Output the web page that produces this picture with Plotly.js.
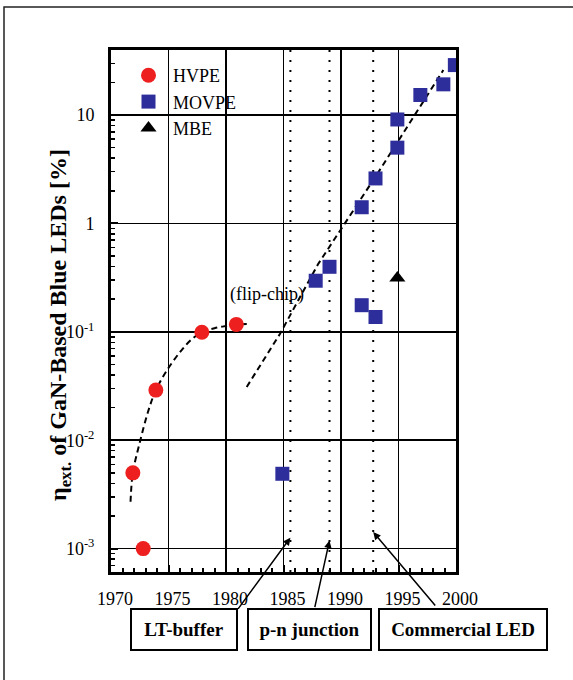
<!DOCTYPE html>
<html>
<head>
<meta charset="utf-8">
<script src="https://cdn.plot.ly/plotly-3.0.1.min.js"></script>
<style>html,body{margin:0;padding:0;background:#fff;}#chart{width:573px;height:680px;}</style>
</head>
<body>
<div id="chart"></div>
<script>
// ---- data ----
const hvpeYear = [1971.9, 1972.8, 1973.9, 1977.9, 1980.9];
const hvpeEff  = [0.005, 0.001, 0.029, 0.099, 0.117];

const movpeYear = [1984.9, 1987.8, 1989.0, 1991.8, 1991.8, 1993.0, 1993.0, 1994.9, 1994.9, 1996.9, 1998.9, 1999.9];
const movpeEff  = [0.0049, 0.296, 0.398, 1.41, 0.176, 2.6, 0.137, 5.0, 9.1, 15.3, 19.2, 28.9];

const mbeYear = [1994.9];
const mbeEff  = [0.313];

// dashed guide curves
const hvpeFitYear = [1971.7, 1971.9, 1972.5, 1973.2, 1973.9, 1974.8, 1976, 1977, 1977.9, 1979, 1980, 1981, 1982];
const hvpeFitEff  = [0.0027, 0.005, 0.0095, 0.018, 0.029, 0.043, 0.065, 0.085, 0.099, 0.108, 0.113, 0.117, 0.118];
const movpeFitYear = [1981.8, 1984.7, 1988.0, 1993.0, 1998.9];
const movpeFitEff  = [0.031, 0.096, 0.42, 2.7, 26];

// milestones
const eventYears  = [1985.6, 1989.0, 1992.8];
const eventLabels = ['LT-buffer', 'p-n junction', 'Commercial LED'];
const eventTipEff = [0.00126, 0.00119, 0.00142];

const yTickVals = [0.001, 0.01, 0.1, 1, 10];
const yTickText = ['10<sup>-3</sup>', '10<sup>-2</sup>', '10<sup>-1</sup>', '1', '10'];
const xTickVals = [1970, 1975, 1980, 1985, 1990, 1995, 2000];

// ---- layout geometry ----
const W = 573, H = 680;
const M = {l: 111, r: 117, t: 50, b: 108};
const pw = W - M.l - M.r, ph = H - M.t - M.b;
const px = v => (v - M.l) / pw;
const py = v => (H - M.b - v) / ph;

const SERIF = '"Liberation Serif", "Times New Roman", serif';

const minorY = [];
for (let e = -4; e <= 1; e++) for (let k = 2; k <= 9; k++) minorY.push(k * Math.pow(10, e));

const traces = [
  {x: hvpeFitYear, y: hvpeFitEff, mode: 'lines', line: {color: '#000', width: 2, dash: '6px,4px', shape: 'spline'}, showlegend: false, hoverinfo: 'skip'},
  {x: movpeFitYear, y: movpeFitEff, mode: 'lines', line: {color: '#000', width: 2, dash: '6px,4px'}, showlegend: false, hoverinfo: 'skip'},
  {x: hvpeYear, y: hvpeEff, mode: 'markers', name: 'HVPE',
   marker: {symbol: 'circle', size: 15, color: '#ee1f1f'}},
  {x: movpeYear, y: movpeEff, mode: 'markers', name: 'MOVPE',
   marker: {symbol: 'square', size: 14, color: '#2d2d9b'}},
  {x: mbeYear, y: mbeEff, mode: 'markers', name: 'MBE',
   marker: {symbol: 'triangle-up', size: 14, color: '#000'}}
];

const shapes = eventYears.map(yr => ({
  type: 'line', xref: 'x', yref: 'paper', x0: yr, x1: yr, y0: 0, y1: 1,
  line: {color: '#000', width: 2, dash: '2px,8px'}, layer: 'below'
}));
// outer frame of the figure
shapes.push({type: 'rect', xref: 'paper', yref: 'paper',
  x0: px(4), x1: px(590), y0: py(700), y1: py(7),
  line: {color: '#222', width: 1.5}, fillcolor: 'rgba(0,0,0,0)'});

const boxes = [
  {cx: 184, w: 108},
  {cx: 309, w: 125},
  {cx: 463, w: 170}
];
const tails = [[238.3, 610], [313.3, 608.3], [438.3, 606.7]];

const annotations = [];
eventLabels.forEach((lab, i) => {
  annotations.push({
    xref: 'paper', yref: 'paper', x: px(boxes[i].cx), y: py(629.5),
    xanchor: 'center', yanchor: 'middle',
    text: '<b>' + lab + '</b>', showarrow: false,
    font: {family: SERIF, size: 19, color: '#000'},
    width: boxes[i].w - 4, height: 39, borderpad: 0,
    bordercolor: '#000', borderwidth: 2, bgcolor: '#fff'
  });
});
// arrows
const tipPx = [[291.7, 537.3], [328.3, 540], [375, 531.7]];
eventYears.forEach((yr, i) => {
  annotations.push({
    xref: 'x', yref: 'y', x: yr, y: Math.log10(eventTipEff[i]),
    ax: tails[i][0] - tipPx[i][0], ay: tails[i][1] - tipPx[i][1],
    text: '', showarrow: true, arrowhead: 2, arrowsize: 1, arrowwidth: 1.5, arrowcolor: '#000'
  });
});
annotations.push({
  xref: 'x', yref: 'y', x: 1983.6, y: Math.log10(0.22),
  text: '(flip-chip)', showarrow: false,
  font: {family: SERIF, size: 18, color: '#000'}
});
annotations.push({
  xref: 'paper', yref: 'paper', x: px(60), y: py(325),
  xanchor: 'center', yanchor: 'middle', textangle: -90,
  text: '<b>η<sub>ext.</sub> of GaN-Based Blue LEDs [%]</b>', showarrow: false,
  font: {family: SERIF, size: 24, color: '#000'}
});

const layout = {
  width: W, height: H,
  margin: M,
  paper_bgcolor: '#fff', plot_bgcolor: '#fff',
  font: {family: SERIF, size: 18, color: '#000'},
  showlegend: true,
  legend: {x: px(124), y: py(57), xanchor: 'left', yanchor: 'top',
    bgcolor: 'rgba(0,0,0,0)', font: {family: SERIF, size: 18, color: '#000'},
    itemwidth: 39, tracegroupgap: 0},
  xaxis: {
    type: 'linear', range: [1970, 2000],
    tickmode: 'array', tickvals: xTickVals,
    ticks: 'inside', ticklen: 7, tickwidth: 2, tickcolor: '#000',
    showgrid: true, gridcolor: '#000', gridwidth: 1.5,
    showline: true, linecolor: '#000', linewidth: 3, mirror: true,
    zeroline: false, ticklabelstandoff: 8, ticklabelshift: 4,
    tickfont: {family: SERIF, size: 18, color: '#000'},
    minor: {dtick: 1, ticks: 'inside', ticklen: 4, tickwidth: 2, tickcolor: '#000', showgrid: false}
  },
  yaxis: {
    type: 'log', range: [-3.216, 1.6],
    tickmode: 'array', tickvals: yTickVals, ticktext: yTickText,
    ticks: 'inside', ticklen: 7, tickwidth: 2, tickcolor: '#000',
    showgrid: true, gridcolor: '#000', gridwidth: 1.5,
    showline: true, linecolor: '#000', linewidth: 3, mirror: true,
    zeroline: false, ticklabelstandoff: 10,
    tickfont: {family: SERIF, size: 18, color: '#000'},
    minor: {tickmode: 'array', tickvals: minorY, ticks: 'inside', ticklen: 4, tickwidth: 1.5, tickcolor: '#000', showgrid: false}
  },
  shapes: shapes,
  annotations: annotations
};

Plotly.newPlot('chart', traces, layout, {displayModeBar: false, staticPlot: true});
</script>
</body>
</html>
